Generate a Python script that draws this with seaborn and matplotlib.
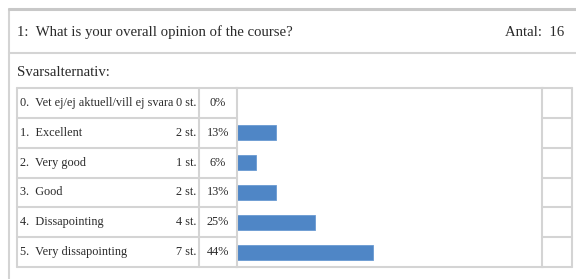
import matplotlib
matplotlib.use("Agg")
import matplotlib.pyplot as plt
import seaborn as sns
import pandas as pd
from matplotlib.transforms import blended_transform_factory
from matplotlib.lines import Line2D

title = "1:  What is your overall opinion of the course?"
total_label = "Antal:  16"
section = "Svarsalternativ:"
categories = ["0.  Vet ej/ej aktuell/vill ej svara", "1.  Excellent", "2.  Very good",
              "3.  Good", "4.  Dissapointing", "5.  Very dissapointing"]
counts = [0, 2, 1, 2, 4, 7]
count_labels = ["0 st.", "2 st.", "1 st.", "2 st.", "4 st.", "7 st."]
pct_labels = ["0%", "13%", "6%", "13%", "25%", "44%"]
total = 16

sns.set_theme(style="white")
plt.rcParams['font.family'] = ['Liberation Serif', 'DejaVu Serif']

W, H = 576, 279
fig = plt.figure(figsize=(W / 100, H / 100), dpi=100)
fig.patch.set_facecolor("white")


def fx(x):
    return x / W


def fy(y):
    return 1 - y / H


grid = "#d4d4d4"
txt = "#2a2a2a"

# outer box
fig.add_artist(Line2D([fx(9), fx(9)], [fy(9), fy(279)], color=grid, lw=1.5))
fig.add_artist(Line2D([fx(9), fx(576)], [fy(9), fy(9)], color="#c8c8c8", lw=2.2))
fig.add_artist(Line2D([fx(9), fx(576)], [fy(53), fy(53)], color=grid, lw=1.5))

fig.text(fx(17), fy(32), title, fontsize=10.6, va="center", ha="left", color=txt)
fig.text(fx(564), fy(32), total_label, fontsize=10.6, va="center", ha="right", color=txt)
fig.text(fx(17), fy(72), section, fontsize=10.6, va="center", ha="left", color=txt)

# bar column axes
ax = fig.add_axes([fx(237), fy(267), fx(542) - fx(237), (267 - 88) / H])
df = pd.DataFrame({"cat": categories, "pct": [c / total * 100 for c in counts]})
sns.barplot(data=df, x="pct", y="cat", orient="h", color="#4F86C6", saturation=1,
            width=0.5, ax=ax, edgecolor="#6a9ad2", linewidth=0.6)
ax.set_xlim(0, 98)
ax.set_ylim(len(categories) - 0.5, -0.5)
ax.set_xticks([])
ax.set_yticks([])
ax.set_xlabel("")
ax.set_ylabel("")
for s in ax.spines.values():
    s.set_visible(True)
    s.set_color(grid)
    s.set_linewidth(1.5)

tr = blended_transform_factory(fig.transFigure, ax.transData)
n = len(categories)
for b in [i - 0.5 for i in range(n + 1)]:
    fig.add_artist(Line2D([fx(17), fx(237)], [b, b], transform=tr, color=grid, lw=1.5))
    fig.add_artist(Line2D([fx(542), fx(572)], [b, b], transform=tr, color=grid, lw=1.5))
for x in [17, 199, 572]:
    fig.add_artist(Line2D([fx(x), fx(x)], [-0.5, n - 0.5], transform=tr, color=grid, lw=1.5))

for i, (c, cl, pl) in enumerate(zip(categories, count_labels, pct_labels)):
    fig.text(fx(20), i, c, transform=tr, fontsize=8.8, va="center", ha="left", color=txt)
    fig.text(fx(196), i, cl, transform=tr, fontsize=8.8, va="center", ha="right", color=txt)
    fig.text(fx(218), i, pl, transform=tr, fontsize=8.8, va="center", ha="center", color=txt)

fig.savefig("out.png", dpi=100, facecolor="white")
